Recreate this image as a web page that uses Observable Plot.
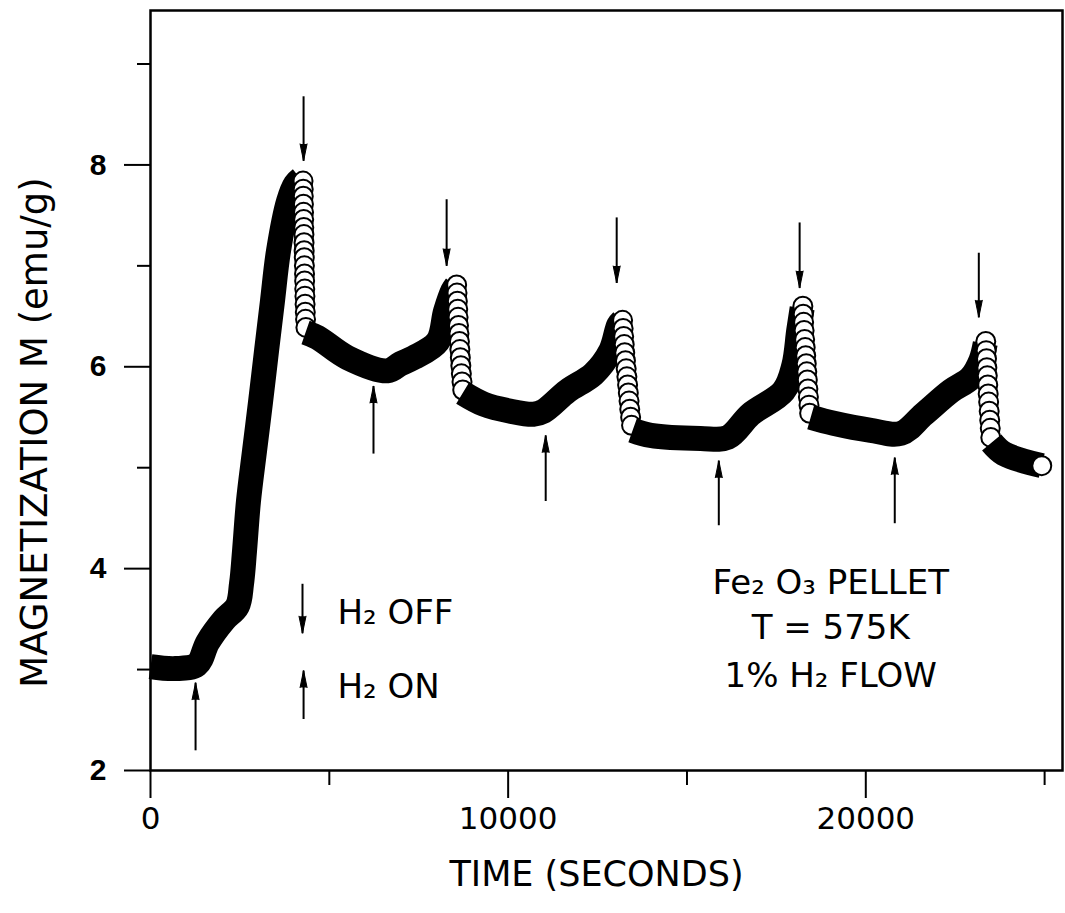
<!DOCTYPE html>
<html>
<head>
<meta charset="utf-8">
<script src="https://cdn.jsdelivr.net/npm/d3@7"></script>
<script src="https://cdn.jsdelivr.net/npm/@observablehq/plot@0.6"></script>
<style>
  html, body { margin: 0; padding: 0; background: #fff; }
  #chart { width: 1065px; height: 913px; }
</style>
</head>
<body>
<div id="chart"></div>
<script>
// ---- Data (time in seconds, M in emu/g) ----
// Filled-dot (H2 ON / reduction) stretches
const on1T = [0, 700, 1300, 1600, 2050, 2430, 2545, 2630, 2740, 2910, 3080, 3245, 3410, 3580, 3860, 4055, 4195];
const on1M = [3.03, 3.01, 3.05, 3.27, 3.49, 3.63, 3.85, 4.18, 4.67, 5.17, 5.66, 6.16, 6.65, 7.15, 7.64, 7.81, 7.86];
const on2T = [4335, 4670, 5510, 6630, 6990, 7360, 8030, 8250, 8450, 8540];
const on2M = [6.34, 6.29, 6.09, 5.96, 6.03, 6.09, 6.25, 6.55, 6.75, 6.80];
const on3T = [8730, 9315, 10070, 10710, 10990, 11660, 12390, 12870, 13090, 13180];
const on3M = [5.74, 5.63, 5.56, 5.53, 5.56, 5.76, 5.93, 6.16, 6.41, 6.45];
const on4T = [13480, 13985, 15380, 16140, 16780, 17700, 17985, 18125, 18220];
const on4M = [5.37, 5.32, 5.29, 5.30, 5.53, 5.76, 6.01, 6.36, 6.58];
const on5T = [18460, 19100, 20140, 20980, 21620, 22380, 22935, 23215, 23340];
const on5M = [5.50, 5.44, 5.37, 5.34, 5.53, 5.76, 5.89, 6.06, 6.23];
const on6T = [23520, 23860, 24920];
const on6M = [5.25, 5.14, 5.02];

// Open-circle (H2 OFF) stretches
const off1T = [4265, 4270, 4272, 4276, 4280, 4283, 4286, 4290, 4293, 4296, 4300, 4303, 4307, 4310, 4313, 4318, 4322, 4328, 4335, 4345];
const off1M = [7.84, 7.76, 7.69, 7.61, 7.53, 7.46, 7.38, 7.31, 7.23, 7.15, 7.08, 7.00, 6.92, 6.85, 6.77, 6.70, 6.62, 6.54, 6.47, 6.39];
const off2T = [8560, 8570, 8580, 8590, 8600, 8612, 8625, 8638, 8650, 8663, 8677, 8692, 8710, 8730];
const off2M = [6.81, 6.73, 6.65, 6.57, 6.49, 6.41, 6.33, 6.25, 6.17, 6.09, 6.01, 5.93, 5.85, 5.77];
const off3T = [13200, 13215, 13230, 13245, 13260, 13280, 13300, 13320, 13340, 13360, 13380, 13400, 13425, 13450];
const off3M = [6.46, 6.38, 6.30, 6.22, 6.14, 6.06, 5.98, 5.90, 5.82, 5.74, 5.66, 5.58, 5.50, 5.42];
const off4T = [18240, 18250, 18262, 18275, 18290, 18305, 18320, 18335, 18350, 18365, 18380, 18395, 18412, 18430];
const off4M = [6.60, 6.52, 6.44, 6.36, 6.27, 6.19, 6.11, 6.03, 5.95, 5.87, 5.78, 5.70, 5.62, 5.54];
const off5T = [23355, 23365, 23375, 23385, 23397, 23410, 23422, 23435, 23450, 23465, 23480, 23495];
const off5M = [6.25, 6.16, 6.08, 5.99, 5.91, 5.82, 5.73, 5.65, 5.56, 5.47, 5.39, 5.30];
const off6T = [24920];
const off6M = [5.02];

// Arrows: H2 OFF (pointing down) and H2 ON (pointing up)
const offArrowT = [4280, 8280, 13035, 18150, 23160];
const offArrowTail = [8.68, 7.66, 7.48, 7.43, 7.13];
const offArrowTip = [8.04, 7.00, 6.83, 6.78, 6.49];
const onArrowT = [1260, 6235, 11050, 15890, 20810];
const onArrowTail = [2.20, 5.14, 4.67, 4.43, 4.45];
const onArrowTip = [2.87, 5.81, 5.32, 5.07, 5.10];

// Legend (key) entries
const keyLabels = ["H₂ OFF", "H₂ ON"];
const keyTextT = [5230, 5230];
const keyTextM = [3.56, 2.83];
const keyArrowT = [4250, 4280];
const keyArrowTail = [3.85, 2.51];
const keyArrowTip = [3.36, 2.99];

// Sample description
const infoLines = ["Fe₂ O₃ PELLET", "T = 575K", "1% H₂ FLOW"];
const infoT = [19020, 19020, 19020];
const infoM = [3.86, 3.41, 2.94];

// Axes
const xMajorTicks = [0, 10000, 20000];
const xMinorTicks = [5000, 15000, 25000];
const yMajorTicks = [2, 4, 6, 8];
const yMinorTicks = [3, 5, 7, 9];
const xDomain = [0, 25500];
const yDomain = [2, 9.53];
const xTitle = "TIME (SECONDS)";
const yTitle = "MAGNETIZATION M (emu/g)";

// ---- Build tables ----
const zip = (T, M) => T.map((t, i) => ({t, m: M[i]}));
const onSegs = [[on1T, on1M], [on2T, on2M], [on3T, on3M], [on4T, on4M], [on5T, on5M], [on6T, on6M]].map(([T, M]) => zip(T, M));
const offSegs = [[off1T, off1M], [off2T, off2M], [off3T, off3M], [off4T, off4M], [off5T, off5M], [off6T, off6M]].map(([T, M]) => zip(T, M));

const offArrows = offArrowT.map((t, i) => ({t, tail: offArrowTail[i], tip: offArrowTip[i]}));
const onArrows = onArrowT.map((t, i) => ({t, tail: onArrowTail[i], tip: onArrowTip[i]}));
const keyArrows = keyArrowT.map((t, i) => ({t, tail: keyArrowTail[i], tip: keyArrowTip[i], down: i === 0}));
const keyText = keyLabels.map((s, i) => ({s, t: keyTextT[i], m: keyTextM[i]}));
const info = infoLines.map((s, i) => ({s, t: infoT[i], m: infoM[i]}));

const FONT = "'DejaVu Sans', sans-serif";

const dataMarks = [];
for (let i = 0; i < onSegs.length; i++) {
  dataMarks.push(Plot.line(onSegs[i], {x: "t", y: "m", curve: "catmull-rom", stroke: "#000", strokeWidth: 25, strokeLinejoin: "round", strokeLinecap: "butt"}));
  dataMarks.push(Plot.dot(offSegs[i], {x: "t", y: "m", r: 9.5, fill: "#fff", stroke: "#000", strokeWidth: 2}));
}

function arrowMarks(arr, down) {
  return [
    Plot.link(arr, {x1: "t", x2: "t", y1: "tail", y2: "tip", stroke: "#000", strokeWidth: 2}),
    Plot.vector(arr, {x: "t", y: "tip", length: 17, r: 3.5, shape: "spike", anchor: "end", rotate: down ? 180 : 0, fill: "#000", stroke: "#000", strokeWidth: 1})
  ];
}

const chart = Plot.plot({
  width: 1065,
  height: 913,
  marginLeft: 150,
  marginRight: 3,
  marginTop: 10,
  marginBottom: 143,
  x: {domain: xDomain},
  y: {domain: yDomain},
  style: {fontFamily: FONT, fontSize: "30px", color: "#000", background: "#fff"},
  marks: [
    Plot.frame({stroke: "#000", strokeWidth: 2.5}),
    Plot.axisX(xMajorTicks, {tickSize: 28, tickPadding: 8, strokeWidth: 2, fontSize: 31, label: null, tickFormat: d => String(d)}),
    Plot.axisX(xMinorTicks, {tickSize: 15, strokeWidth: 2, label: null, tickFormat: () => ""}),
    Plot.axisY(yMajorTicks, {tickSize: 26, tickPadding: 18, strokeWidth: 2, fontSize: 30, fontWeight: "bold", fontFamily: "'Liberation Sans', Arial, sans-serif", label: null, tickFormat: d => String(d)}),
    Plot.axisY(yMinorTicks, {tickSize: 13, strokeWidth: 2, label: null, tickFormat: () => ""}),
    ...dataMarks,
    ...arrowMarks(offArrows, true),
    ...arrowMarks(onArrows, false),
    ...arrowMarks(keyArrows.filter(d => d.down), true),
    ...arrowMarks(keyArrows.filter(d => !d.down), false),
    Plot.text(keyText, {x: "t", y: "m", text: "s", textAnchor: "start", fontSize: 34, fill: "#000"}),
    Plot.text(info, {x: "t", y: "m", text: "s", textAnchor: "middle", fontSize: 34, fill: "#000"}),
    Plot.text([xTitle], {text: d => d, frameAnchor: "bottom", dy: 115, dx: -10, fontSize: 35, fill: "#000"}),
    Plot.text([yTitle], {text: d => d, frameAnchor: "left", dx: -115, dy: 42, rotate: -90, textAnchor: "middle", fontSize: 37, fill: "#000"})
  ]
});
document.getElementById("chart").appendChild(chart);
</script>
</body>
</html>
